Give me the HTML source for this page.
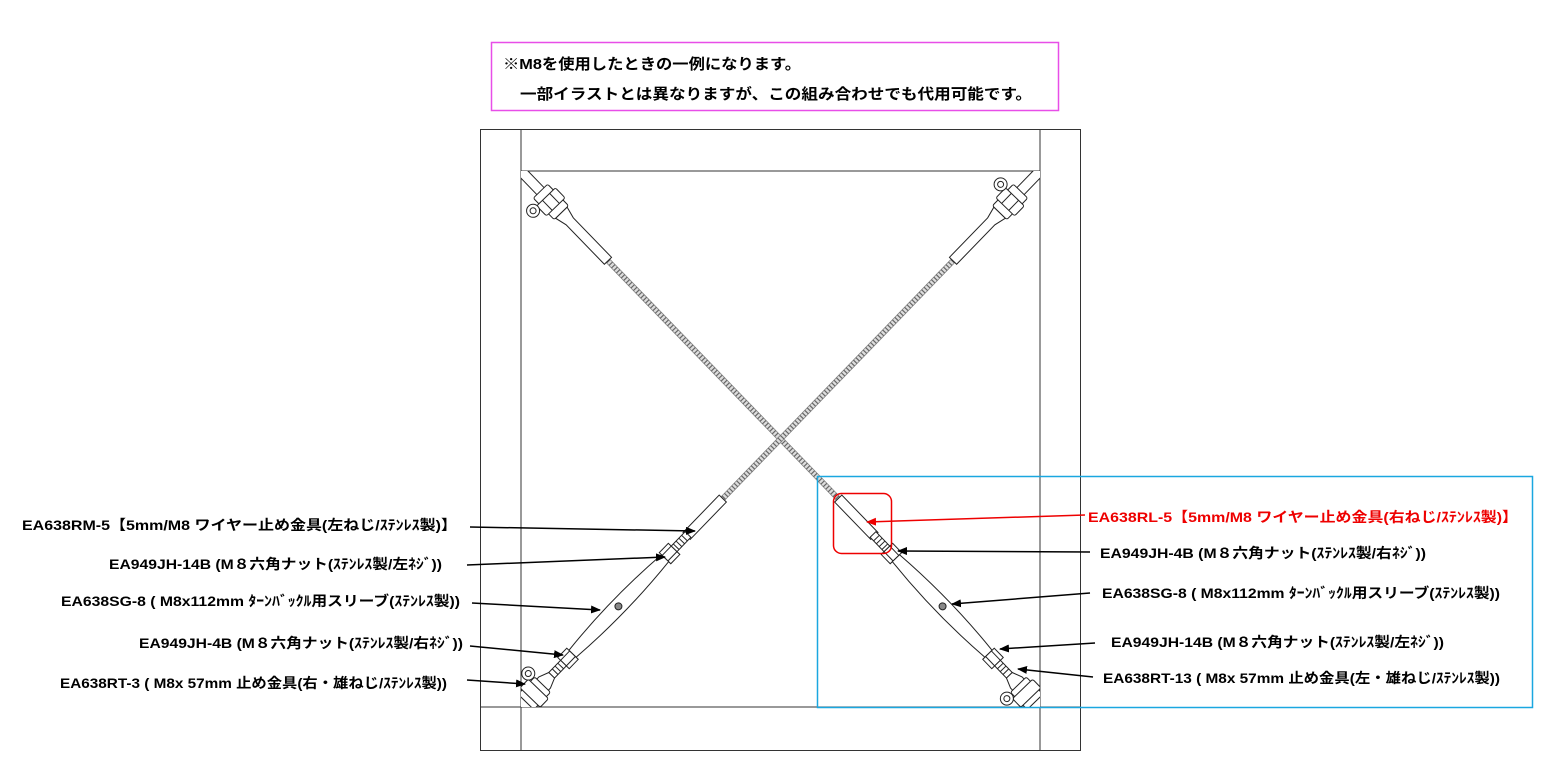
<!DOCTYPE html>
<html><head><meta charset="utf-8"><style>
html,body{margin:0;padding:0;background:#fff;}
svg{display:block;}
text{font-family:"Liberation Sans","Noto Sans CJK JP",sans-serif;font-weight:bold;font-size:14px;}
</style></head><body>
<svg width="1557" height="759" viewBox="0 0 1557 759" xmlns="http://www.w3.org/2000/svg">
<defs>
<marker id="ah" markerWidth="10" markerHeight="8" refX="9" refY="4" orient="auto" markerUnits="userSpaceOnUse"><path d="M0,0 L10,4 L0,8 Z" fill="#000"/></marker>
<marker id="ahr" markerWidth="10" markerHeight="8" refX="9" refY="4" orient="auto" markerUnits="userSpaceOnUse"><path d="M0,0 L10,4 L0,8 Z" fill="#e00"/></marker>
<g id="asm" fill="#fff" stroke="#222" stroke-width="1">
  <!-- cable -->
  <rect x="125" y="-2.5" width="332" height="5" fill="#ddd" stroke="#888" stroke-width="0.8"/>
  <line x1="125" y1="0" x2="457" y2="0" stroke="#666" stroke-width="5" stroke-dasharray="1.2 2.3"/>
  <!-- top fitting -->
  <rect x="-10" y="-5" width="40" height="10"/>
  <path d="M58,-8 L70,-5 L125,-5 L125,5 L70,5 L58,8 Z"/>
  <rect x="28" y="-10" width="30" height="20" rx="2"/>
  <rect x="36" y="-13" width="14" height="26" rx="2"/>
  <line x1="36" y1="-5" x2="50" y2="-5"/><line x1="36" y1="5" x2="50" y2="5"/>
  <circle cx="37" cy="19" r="6.5"/><circle cx="37" cy="19" r="3"/>
  <!-- wire stop -->
  <rect x="456" y="-5" width="52" height="10"/>
  <rect x="506" y="-4" width="20" height="8"/>
  <line x1="511" y1="-4" x2="511" y2="4"/><line x1="515" y1="-4" x2="515" y2="4"/><line x1="519" y1="-4" x2="519" y2="4"/><line x1="523" y1="-4" x2="523" y2="4"/>
  <!-- nut -->
  <rect x="526" y="-8" width="13" height="16"/>
  <line x1="526" y1="-4" x2="539" y2="-4"/><line x1="526" y1="4" x2="539" y2="4"/>
  <!-- body -->
  <path d="M539,-5 Q606,-11 672,-5 L672,5 Q606,11 539,5 Z"/>
  <circle cx="606" cy="0" r="3.5" fill="#888"/>
  <!-- nut -->
  <rect x="672" y="-8" width="13" height="16"/>
  <line x1="672" y1="-4" x2="685" y2="-4"/><line x1="672" y1="4" x2="685" y2="4"/>
  <!-- threads -->
  <rect x="685" y="-4" width="17" height="8"/>
  <line x1="689" y1="-4" x2="689" y2="4"/><line x1="693" y1="-4" x2="693" y2="4"/><line x1="697" y1="-4" x2="697" y2="4"/>
  <!-- bottom fitting -->
  <path d="M702,-4 L712,-8 L760,-8 L760,8 L712,8 L702,4 Z"/>
  <rect x="715" y="-11" width="24" height="22" rx="2"/>
  <rect x="721" y="-14" width="12" height="28" rx="2"/>
  <circle cx="717" cy="18" r="6.5"/><circle cx="717" cy="18" r="3"/>
</g>
<clipPath id="inner"><rect x="521" y="171" width="519" height="536"/></clipPath>
</defs>

<rect x="480.5" y="129.5" width="600" height="621" fill="none" stroke="#333" stroke-width="1"/>
<line x1="521" y1="129" x2="521" y2="751" stroke="#333"/>
<line x1="1040" y1="129" x2="1040" y2="751" stroke="#333"/>
<line x1="521" y1="171" x2="1040" y2="171" stroke="#333"/>
<line x1="480" y1="707" x2="1081" y2="707" stroke="#333"/>

<g clip-path="url(#inner)">
<use href="#asm" transform="translate(521,171) rotate(45.92)"/>
<use href="#asm" transform="translate(1040,171) rotate(134.08)"/>
</g>

<rect x="491.5" y="42.5" width="567" height="68" fill="none" stroke="#e84ee8" stroke-width="1.5"/>
<text x="503" y="69" style="font-size:15px" textLength="298" lengthAdjust="spacingAndGlyphs">※M8を使用したときの一例になります。</text>
<text x="520" y="99" style="font-size:15px" textLength="512" lengthAdjust="spacingAndGlyphs">一部イラストとは異なりますが、この組み合わせでも代用可能です。</text>

<rect x="817.5" y="476.5" width="715" height="231" fill="none" stroke="#1aa7e0" stroke-width="1.5"/>
<rect x="833.5" y="493.5" width="58" height="60" rx="8" fill="none" stroke="#e00" stroke-width="1.5"/>

<text x="22" y="530" textLength="435" lengthAdjust="spacingAndGlyphs">EA638RM-5【5mm/M8 ワイヤー止め金具(左ねじ/ｽﾃﾝﾚｽ製)】</text>
<line x1="470" y1="527" x2="695" y2="531" stroke="#000" stroke-width="1.5" marker-end="url(#ah)"/>
<text x="109" y="569" textLength="333" lengthAdjust="spacingAndGlyphs">EA949JH-14B (M８六角ナット(ｽﾃﾝﾚｽ製/左ﾈｼﾞ))</text>
<line x1="467" y1="565" x2="665" y2="557" stroke="#000" stroke-width="1.5" marker-end="url(#ah)"/>
<text x="61" y="606" textLength="399" lengthAdjust="spacingAndGlyphs">EA638SG-8 ( M8x112mm ﾀｰﾝﾊﾞｯｸﾙ用スリーブ(ｽﾃﾝﾚｽ製))</text>
<line x1="472" y1="603" x2="600" y2="610" stroke="#000" stroke-width="1.5" marker-end="url(#ah)"/>
<text x="139" y="648" textLength="324" lengthAdjust="spacingAndGlyphs">EA949JH-4B (M８六角ナット(ｽﾃﾝﾚｽ製/右ﾈｼﾞ))</text>
<line x1="470" y1="646" x2="563" y2="655" stroke="#000" stroke-width="1.5" marker-end="url(#ah)"/>
<text x="60" y="688" textLength="387" lengthAdjust="spacingAndGlyphs">EA638RT-3 ( M8x 57mm 止め金具(右・雄ねじ/ｽﾃﾝﾚｽ製))</text>
<line x1="467" y1="680" x2="525" y2="684" stroke="#000" stroke-width="1.5" marker-end="url(#ah)"/>

<text x="1088" y="522" fill="#e00" textLength="430" lengthAdjust="spacingAndGlyphs">EA638RL-5【5mm/M8 ワイヤー止め金具(右ねじ/ｽﾃﾝﾚｽ製)】</text>
<line x1="1085" y1="515" x2="867" y2="522" stroke="#e00" stroke-width="1.5" marker-end="url(#ahr)"/>
<text x="1100" y="558" textLength="326" lengthAdjust="spacingAndGlyphs">EA949JH-4B (M８六角ナット(ｽﾃﾝﾚｽ製/右ﾈｼﾞ))</text>
<line x1="1090" y1="552" x2="898" y2="551" stroke="#000" stroke-width="1.5" marker-end="url(#ah)"/>
<text x="1102" y="598" textLength="398" lengthAdjust="spacingAndGlyphs">EA638SG-8 ( M8x112mm ﾀｰﾝﾊﾞｯｸﾙ用スリーブ(ｽﾃﾝﾚｽ製))</text>
<line x1="1090" y1="593" x2="952" y2="604" stroke="#000" stroke-width="1.5" marker-end="url(#ah)"/>
<text x="1111" y="647" textLength="333" lengthAdjust="spacingAndGlyphs">EA949JH-14B (M８六角ナット(ｽﾃﾝﾚｽ製/左ﾈｼﾞ))</text>
<line x1="1095" y1="643" x2="1000" y2="649" stroke="#000" stroke-width="1.5" marker-end="url(#ah)"/>
<text x="1103" y="683" textLength="397" lengthAdjust="spacingAndGlyphs">EA638RT-13 ( M8x 57mm 止め金具(左・雄ねじ/ｽﾃﾝﾚｽ製))</text>
<line x1="1093" y1="677" x2="1018" y2="669" stroke="#000" stroke-width="1.5" marker-end="url(#ah)"/>
</svg>
</body></html>
